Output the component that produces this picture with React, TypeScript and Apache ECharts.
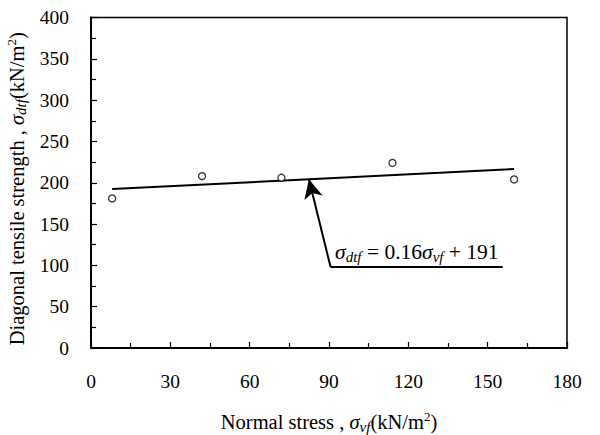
import React, { useEffect, useRef } from 'react';
import * as echarts from 'echarts';

// Measured points (normal stress, diagonal tensile strength)
const stressX = [8, 42, 72, 114, 160];
const strengthY = [181, 208, 206, 224, 204];
// Regression line endpoints
const fitX = [8, 160];
const fitY = [192.3, 216.6];
// Annotation leader: underline end, elbow, arrow tip
const leaderEnd = [155.7, 98];
const leaderElbow = [90.6, 98];
const leaderTip = [82.4, 204.2];
const eqAnchor = [92.5, 98];

const xMin = 0, xMax = 180, xStep = 30;
const yMin = 0, yMax = 400, yStep = 50;

const FONT = 'Liberation Serif';
const richBase = {
  t: { fontFamily: FONT, fontSize: 20.5, color: '#000', lineHeight: 24 },
  s: { fontFamily: FONT, fontSize: 20.5, fontStyle: 'italic', color: '#000', lineHeight: 24 },
  sub: { fontFamily: FONT, fontSize: 15, fontStyle: 'italic', color: '#000', lineHeight: 15, verticalAlign: 'bottom' },
  sup: { fontFamily: FONT, fontSize: 13, color: '#000', lineHeight: 13, verticalAlign: 'top' },
};

export default function App() {
  const ref = useRef<HTMLDivElement>(null);
  useEffect(() => {
    document.body.style.margin = '0';
    const chart = echarts.init(ref.current!, null, { renderer: 'svg' });
    chart.setOption({
      animation: false,
      backgroundColor: '#fff',
      textStyle: { fontFamily: FONT },
      grid: {
        left: 91, right: 33, top: 17.5, bottom: 87,
        show: true, borderColor: '#000', borderWidth: 1.5,
        outerBoundsMode: 'none',
      },
      xAxis: {
        type: 'value', min: xMin, max: xMax, interval: xStep,
        name: '{t|Normal stress , }{s|σ}{sub|vf}{t|(kN/m}{sup|2}{t|)}',
        nameLocation: 'middle', nameGap: 62,
        nameTextStyle: { rich: richBase },
        axisLine: { show: true, onZero: false, lineStyle: { color: '#000', width: 2 } },
        axisTick: { show: true, inside: true, length: 6, lineStyle: { color: '#000', width: 1.2 } },
        minorTick: { show: true, splitNumber: 2, length: 5, lineStyle: { color: '#000', width: 1.2 } },
        axisLabel: { margin: 23, color: '#000', fontSize: 19.5, fontFamily: FONT },
        splitLine: { show: false },
      },
      yAxis: {
        type: 'value', min: yMin, max: yMax, interval: yStep,
        name: '{t|Diagonal tensile strength , }{s|σ}{sub|dtf}{t|(kN/m}{sup|2}{t|)}',
        nameLocation: 'middle', nameGap: 54, nameRotate: 90,
        nameTextStyle: { rich: richBase, padding: [0, 12, 0, 0] },
        axisLine: { show: true, onZero: false, lineStyle: { color: '#000', width: 2 } },
        axisTick: { show: true, inside: true, length: 6, lineStyle: { color: '#000', width: 1.2 } },
        minorTick: { show: true, splitNumber: 2, length: 5, lineStyle: { color: '#000', width: 1.2 } },
        axisLabel: { margin: 22, color: '#000', fontSize: 19.5, fontFamily: FONT },
        splitLine: { show: false },
      },
      series: [
        {
          type: 'line',
          data: fitX.map((x, i) => [x, fitY[i]]),
          symbol: 'none',
          lineStyle: { color: '#000', width: 2 },
          z: 2,
        },
        {
          type: 'scatter',
          data: stressX.map((x, i) => [x, strengthY[i]]),
          symbol: 'circle',
          symbolSize: 7,
          itemStyle: { color: '#fff', borderColor: '#000', borderWidth: 1.3 },
          z: 3,
        },
        {
          type: 'line',
          data: [leaderEnd, leaderElbow],
          symbol: 'none',
          lineStyle: { color: '#000', width: 2 },
          z: 4,
          markLine: {
            silent: true,
            symbol: ['none', 'arrow'],
            symbolSize: [14, 19],
            lineStyle: { color: '#000', width: 2, type: 'solid' },
            label: { show: false },
            data: [[{ coord: leaderElbow }, { coord: leaderTip }]],
          },
          markPoint: {
            silent: true,
            symbol: 'rect',
            symbolSize: 1,
            itemStyle: { color: 'rgba(0,0,0,0)' },
            label: {
              show: true,
              position: [0, -27],
              align: 'left',
              formatter: '{s|σ}{sub|dtf}{t| = 0.16}{s|σ}{sub|vf}{t| + 191}',
              rich: {
                t: { fontFamily: FONT, fontSize: 21.5, color: '#000', lineHeight: 25 },
                s: { fontFamily: FONT, fontSize: 21.5, fontStyle: 'italic', color: '#000', lineHeight: 25 },
                sub: { fontFamily: FONT, fontSize: 15, fontStyle: 'italic', color: '#000', lineHeight: 15, verticalAlign: 'bottom' },
              },
            },
            data: [{ coord: eqAnchor }],
          },
        },
      ],
    });
    return () => chart.dispose();
  }, []);
  return <div ref={ref} style={{ width: 600, height: 435 }} />;
}
